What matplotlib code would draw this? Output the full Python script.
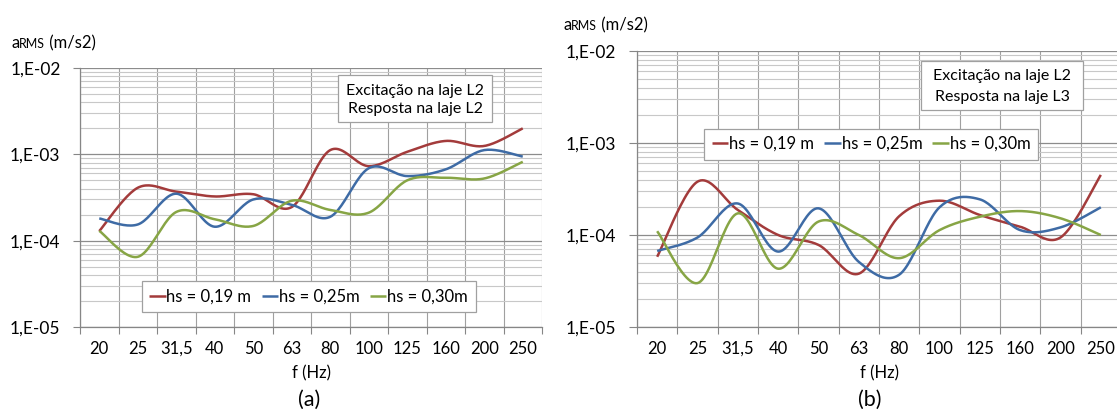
import numpy as np
import matplotlib
matplotlib.use('Agg')
import matplotlib.pyplot as plt
from matplotlib.ticker import FixedLocator, NullFormatter, FixedFormatter, LogLocator
from matplotlib.patches import Rectangle

plt.rcParams['font.family'] = ['Lato', 'DejaVu Sans']

freqs = ['20', '25', '31,5', '40', '50', '63', '80', '100', '125', '160', '200', '250']
series_labels = ['hs = 0,19 m', 'hs = 0,25m', 'hs = 0,30m']

# (a) Excitação L2 / Resposta L2
a_h019 = [1.29e-4, 4.1e-4, 3.7e-4, 3.25e-4, 3.45e-4, 2.45e-4, 1.12e-3, 7.3e-4, 1.07e-3, 1.43e-3, 1.25e-3, 2.0e-3]
a_h025 = [1.81e-4, 1.54e-4, 3.5e-4, 1.45e-4, 3.0e-4, 2.6e-4, 1.89e-4, 6.9e-4, 5.6e-4, 6.7e-4, 1.12e-3, 9.4e-4]
a_h030 = [1.3e-4, 6.5e-5, 2.15e-4, 1.77e-4, 1.48e-4, 2.9e-4, 2.27e-4, 2.11e-4, 5.0e-4, 5.35e-4, 5.25e-4, 8.2e-4]
# (b) Excitação L2 / Resposta L3
b_h019 = [5.8e-5, 3.8e-4, 1.87e-4, 1.0e-4, 7.8e-5, 3.8e-5, 1.6e-4, 2.36e-4, 1.65e-4, 1.23e-4, 9.4e-5, 4.5e-4]
b_h025 = [6.7e-5, 9.4e-5, 2.2e-4, 6.6e-5, 1.95e-4, 5.1e-5, 3.7e-5, 2.0e-4, 2.44e-4, 1.13e-4, 1.21e-4, 2.0e-4]
b_h030 = [1.1e-4, 3.0e-5, 1.72e-4, 4.3e-5, 1.4e-4, 1.0e-4, 5.6e-5, 1.13e-4, 1.58e-4, 1.82e-4, 1.52e-4, 1.0e-4]

colors = ['#A33B3B', '#3E6BA5', '#87A545']
W, H = 1117, 417
FS = 11.5


def smooth(vals, n=24):
    """Excel-style smoothed line (Bezier / Catmull-Rom) in display (log) space."""
    y = np.log10(np.asarray(vals, float))
    x = np.arange(len(y), dtype=float)
    pts = np.column_stack([x, y])
    P = np.vstack([pts[0], pts, pts[-1]])
    xs, ys = [], []
    for i in range(len(pts) - 1):
        p0, p1, p2, p3 = P[i], P[i + 1], P[i + 2], P[i + 3]
        c1 = p1 + (p2 - p0) / 6.0
        c2 = p2 - (p3 - p1) / 6.0
        t = np.linspace(0, 1, n, endpoint=(i == len(pts) - 2))[:, None]
        b = (1 - t) ** 3 * p1 + 3 * (1 - t) ** 2 * t * c1 + 3 * (1 - t) * t ** 2 * c2 + t ** 3 * p2
        xs.append(b[:, 0]); ys.append(b[:, 1])
    return np.concatenate(xs), 10 ** np.concatenate(ys)


fig = plt.figure(figsize=(W / 100, H / 100), dpi=100)


def make_axes(left, top, right, bottom, data, box_lines, box_rect, leg_center, ytick_len):
    ax = fig.add_axes([left / W, 1 - bottom / H, (right - left) / W, (bottom - top) / H])
    ax.set_yscale('log')
    ax.set_ylim(1e-5, 1e-2)
    ax.set_xlim(-0.5, len(freqs) - 0.5)
    ax.xaxis.set_major_locator(FixedLocator(np.arange(-0.5, len(freqs), 1.0)))
    ax.xaxis.set_major_formatter(NullFormatter())
    ax.xaxis.set_minor_locator(FixedLocator(np.arange(len(freqs))))
    ax.xaxis.set_minor_formatter(FixedFormatter(freqs))
    ax.yaxis.set_major_locator(FixedLocator([1e-5, 1e-4, 1e-3, 1e-2]))
    ax.yaxis.set_major_formatter(FixedFormatter(['1,E-05', '1,E-04', '1,E-03', '1,E-02']))
    ax.yaxis.set_minor_locator(LogLocator(base=10, subs=np.arange(2, 10)))
    ax.yaxis.set_minor_formatter(NullFormatter())
    ax.tick_params(axis='x', which='major', length=5, color='#868686', width=0.8, direction='out')
    ax.tick_params(axis='x', which='minor', length=0, pad=10, labelsize=FS + 0.5, colors='#000000')
    ax.tick_params(axis='y', which='major', length=ytick_len, color='#868686', width=0.8,
                   pad=9, labelsize=FS + 1)
    ax.tick_params(axis='y', which='minor', length=0)
    ax.xaxis.grid(True, which='major', color='#a0a0a0', lw=0.8)
    ax.yaxis.grid(True, which='major', color='#8c8c8c', lw=0.9)
    ax.yaxis.grid(True, which='minor', color='#c8c8c8', lw=0.8)
    ax.set_axisbelow(True)
    for s in ['top', 'right']:
        ax.spines[s].set_visible(False)
    for s in ['left', 'bottom']:
        ax.spines[s].set_color('#868686')
        ax.spines[s].set_linewidth(0.9)
    handles = []
    for vals, c, lab in zip(data, colors, series_labels):
        xs, ys = smooth(vals)
        ln, = ax.plot(xs, ys, color=c, lw=1.8, solid_capstyle='butt', zorder=3, label=lab)
        handles.append(ln)
    # text box
    bx0, by0, bx1, by1 = box_rect
    rect = Rectangle((bx0 / W, 1 - by1 / H), (bx1 - bx0) / W, (by1 - by0) / H,
                     transform=fig.transFigure, facecolor='white', edgecolor='#a0a0a0',
                     lw=0.9, zorder=4)
    fig.patches.append(rect)
    for txt, yy in box_lines:
        fig.text(((bx0 + bx1) / 2) / W, 1 - yy / H, txt, ha='center', va='center',
                 fontsize=FS, zorder=5)
    leg = ax.legend(handles=handles, loc='center',
                    bbox_to_anchor=(leg_center[0] / W, 1 - leg_center[1] / H),
                    bbox_transform=fig.transFigure, ncol=3, fontsize=FS + 0.5,
                    handlelength=1.0, handletextpad=0.05, columnspacing=0.6,
                    borderpad=0.45, fancybox=False, framealpha=1, edgecolor='#a0a0a0')
    leg.get_frame().set_linewidth(0.9)
    for l in leg.get_lines():
        l.set_linewidth(1.8)
    leg.set_zorder(6)
    return ax


ax1 = make_axes(80, 68, 542, 327, [a_h019, a_h025, a_h030],
                [('Excitação na laje L2', 91), ('Resposta na laje L2', 109)],
                (338, 75, 492, 122), (308.5, 296.5), 5)
ax2 = make_axes(637, 51, 1121, 327, [b_h019, b_h025, b_h030],
                [('Excitação na laje L2', 76), ('Resposta na laje L3', 97)],
                (921, 61, 1083, 110), (871, 144), 6)

renderer = fig.canvas.get_renderer()


def ylabel_at(x, ybase):
    parts = [('a', FS + 0.5), ('RMS', FS - 2.5), (' (m/s2)', FS + 0.5)]
    xx = x
    for s, fs in parts:
        t = fig.text(xx / W, 1 - ybase / H, s, fontsize=fs, va='baseline', ha='left')
        bb = t.get_window_extent(renderer)
        xx = bb.x1


ylabel_at(11, 48.5)
ylabel_at(563, 30.5)

fig.text(311 / W, 1 - 373 / H, 'f (Hz)', ha='center', va='center', fontsize=FS + 0.5)
fig.text(879 / W, 1 - 373 / H, 'f (Hz)', ha='center', va='center', fontsize=FS + 0.5)
fig.text(309 / W, 1 - 400 / H, '(a)', ha='center', va='center', fontsize=15.5)
fig.text(870 / W, 1 - 400 / H, '(b)', ha='center', va='center', fontsize=15.5)

fig.savefig('out.png', dpi=100, facecolor='white')
